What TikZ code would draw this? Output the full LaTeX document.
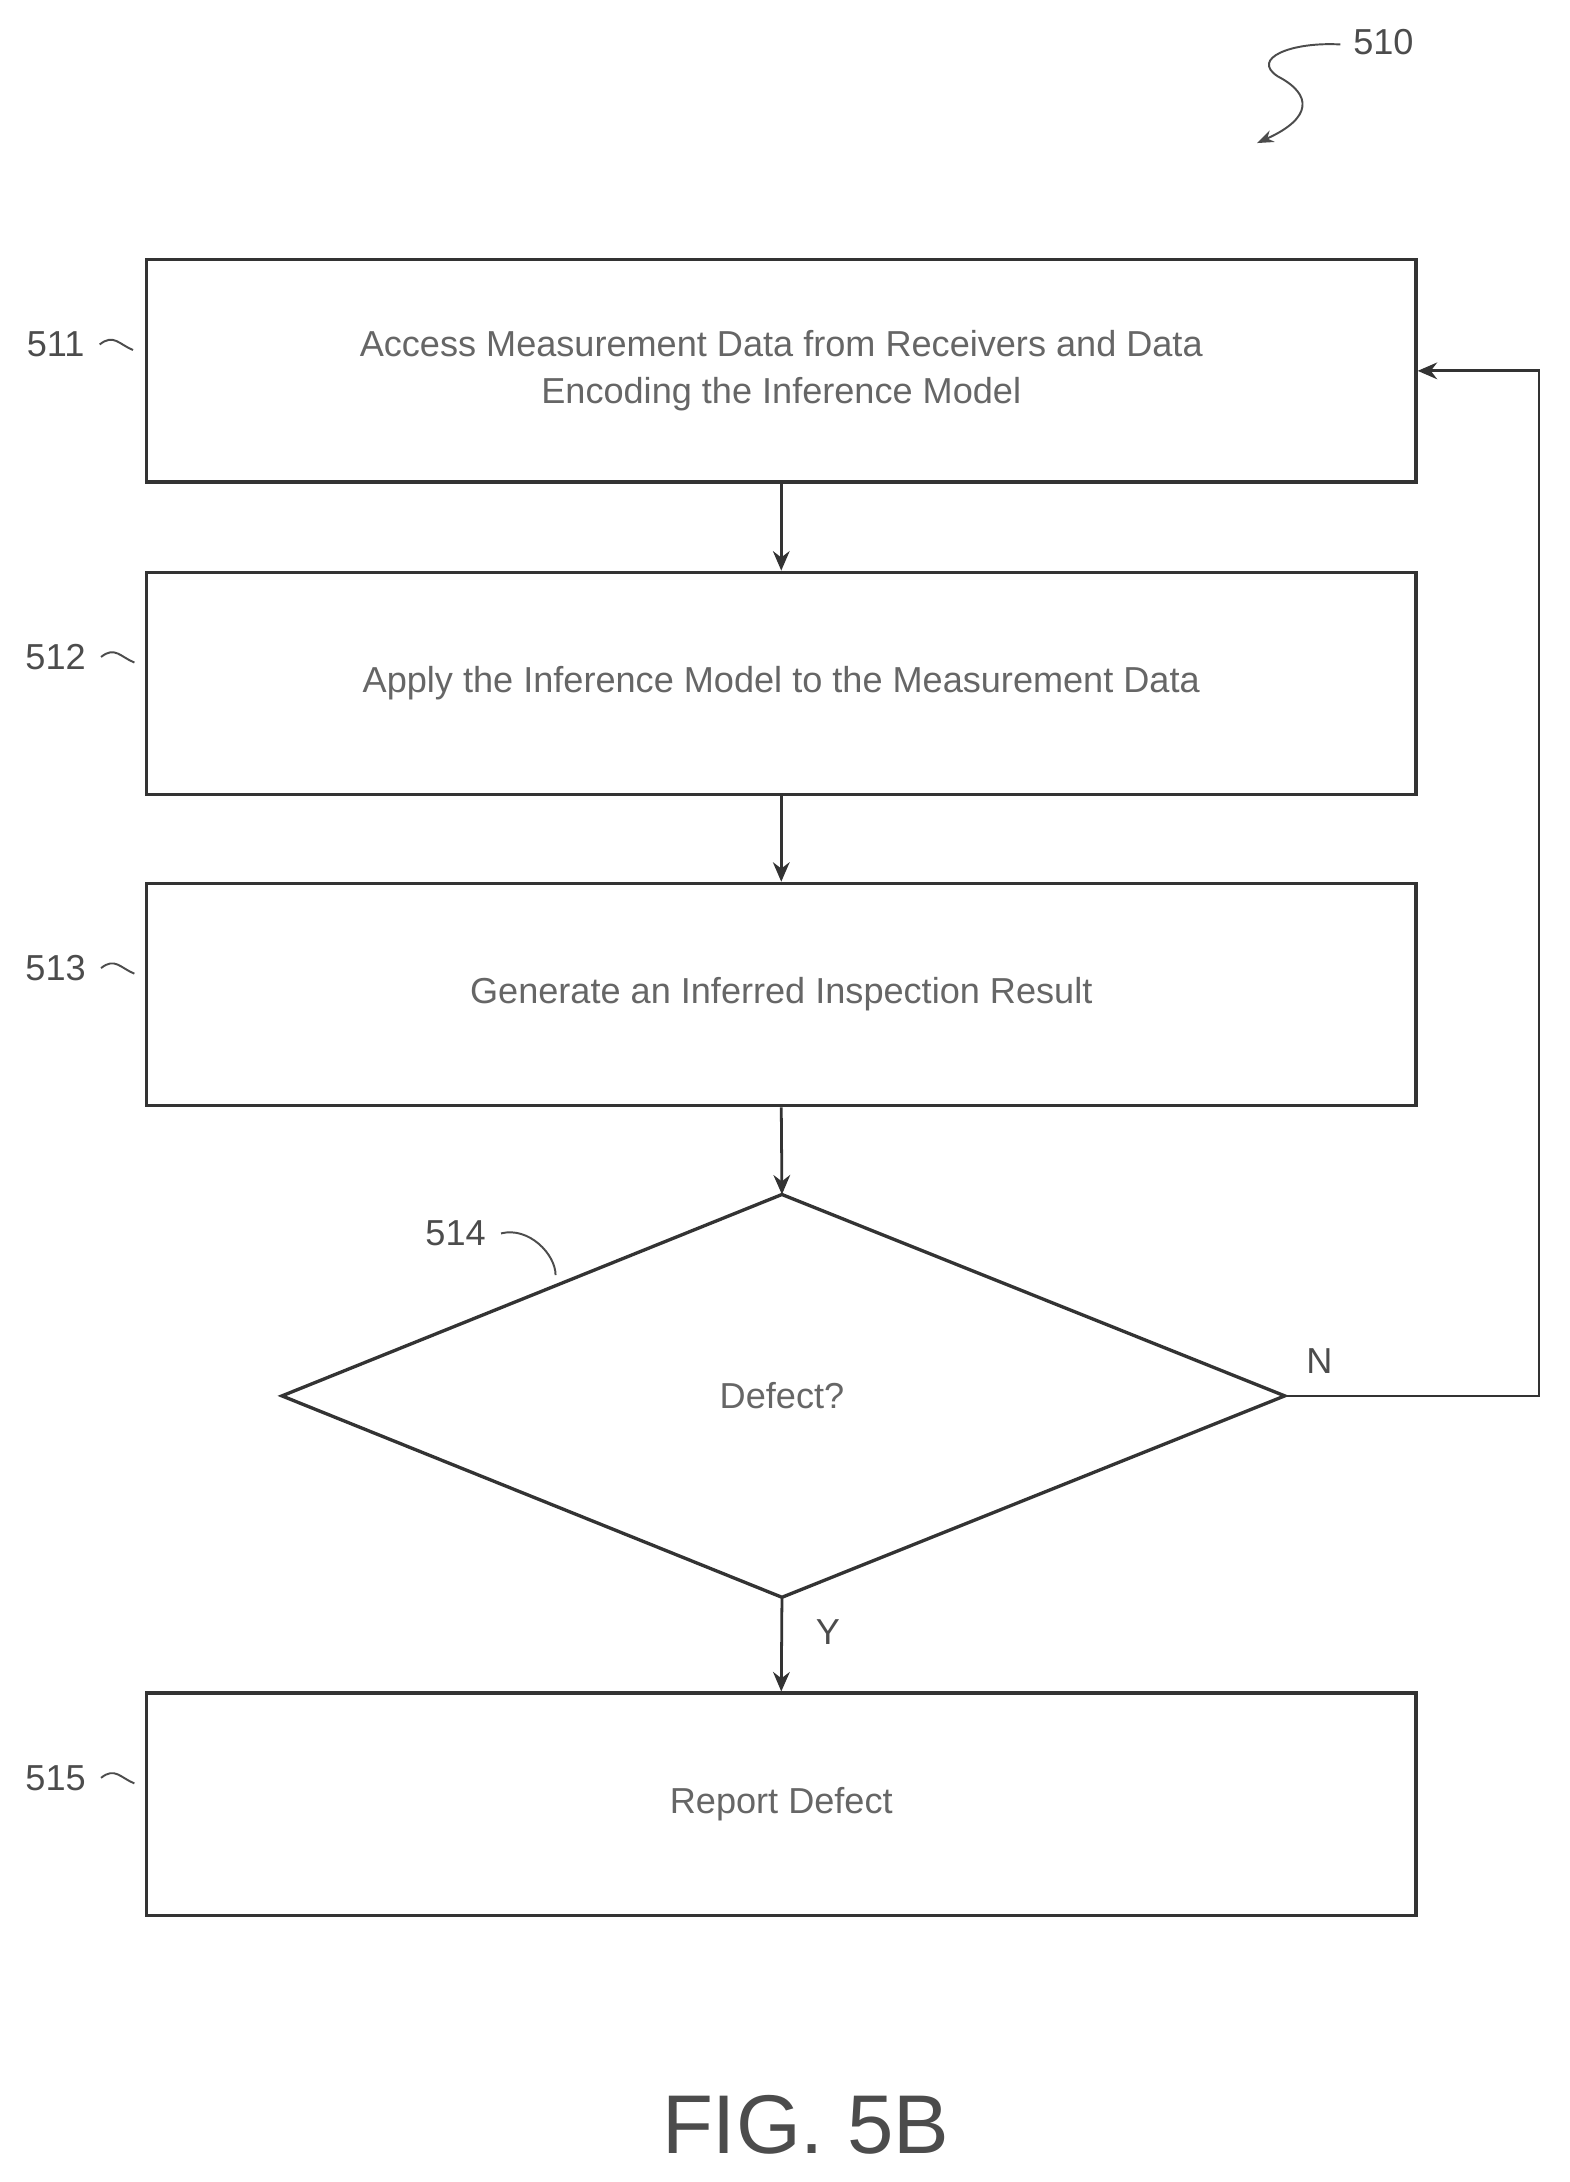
\documentclass[tikz,border=0pt]{standalone}
\usepackage{fontspec}
\setmainfont{Liberation Sans}
\usetikzlibrary{arrows.meta}
\begin{document}
\begin{tikzpicture}[x=0.5pt,y=-0.5pt,
  box/.style={draw=black!80,line width=1.2pt,minimum width=457pt,minimum height=80pt,inner sep=0pt,font=\fontsize{13}{17}\selectfont,text=black!60,align=center},
  arr/.style={-{Stealth[length=7pt,width=6pt]},draw=black!80,line width=1pt},
  lab/.style={font=\fontsize{13}{15}\selectfont,text=black!70},
  sq/.style={draw=black!70,line width=0.7pt}]
\useasboundingbox (0,0) rectangle (1130,1571);
\node[box] (b1) at (562.5,267) {Access Measurement Data from Receivers and Data\\Encoding the Inference Model};
\node[box] (b2) at (562.5,492) {Apply the Inference Model to the Measurement Data};
\node[box] (b3) at (562.5,716) {Generate an Inferred Inspection Result};
\coordinate (dt) at (563,860); \coordinate (dl) at (203,1005);
\coordinate (dr) at (925,1005); \coordinate (db) at (563,1150);
\draw[draw=black!80,line width=1.2pt] (dt)--(dr)--(db)--(dl)--cycle;
\node[lab,text=black!60] (d) at (563,1005) {Defect?};
\node[box] (b5) at (562.5,1299) {Report Defect};
\draw[arr] (b1.south)--(b2.north);
\draw[arr] (b2.south)--(b3.north);
\draw[arr] (b3.south)--(dt);
\draw[arr] (db)--(b5.north);
\coordinate (c1) at (1108,1005); \coordinate (c2) at (1108,267);
\draw[arr] (dr)--(c1)--(c2)--(b1.east);
\node[lab] at (950,980) {N};
\node[lab] at (596,1175) {Y};
\node[lab] (l1) at (40,248) {511};
\node[lab] (l2) at (40,473) {512};
\node[lab] (l3) at (40,697) {513};
\node[lab] (l5) at (40,1280) {515};
\node[lab] (l4) at (328,888) {514};
\node[lab] (l0) at (996,30) {510};
\foreach \n/\y in {l1/248,l2/473,l3/697,l5/1280}{
  \draw[sq] (\n.east) ++(4,0) .. controls +(10,-8) and +(-10,-4) .. ++(24,4);}
\draw[sq] (l4.east) ++(4,0) .. controls +(20,-5) and +(0,-15) .. (400,918);
\coordinate (s0) at (965,32);
\coordinate (s1) at (905,103);
\draw[sq,-{Stealth[length=6pt]}] (s0) .. controls (930,30) and (900,42) .. (920,55)
  .. controls (945,68) and (945,85) .. (s1);
\node[font=\fontsize{30}{32}\selectfont,text=black!70] at (580,1530) {FIG. 5B};
\end{tikzpicture}
\end{document}
